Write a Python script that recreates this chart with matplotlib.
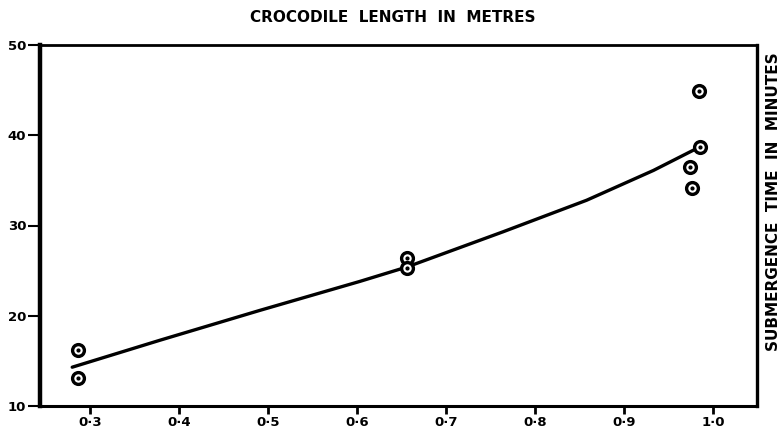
import matplotlib
matplotlib.use("Agg")
import matplotlib.pyplot as plt

# =========================
# DATOS
# =========================
longitud = [0.287, 0.287, 0.656, 0.656, 0.984, 0.985, 0.974, 0.976]
inmersion = [16.2, 13.1, 26.4, 25.3, 44.9, 38.7, 36.5, 34.2]

curva_x = [0.280, 0.379, 0.491, 0.603, 0.656, 0.764, 0.858, 0.933, 0.985]
curva_y = [14.3, 17.3, 20.6, 23.8, 25.4, 29.3, 32.8, 36.1, 38.7]

x_ticks = [0.3, 0.4, 0.5, 0.6, 0.7, 0.8, 0.9, 1.0]
x_labels = ["0·3", "0·4", "0·5", "0·6", "0·7", "0·8", "0·9", "1·0"]
y_ticks = [10, 20, 30, 40, 50]

TITULO = "CROCODILE  LENGTH  IN  METRES"
ETIQUETA_Y = "SUBMERGENCE  TIME  IN  MINUTES"

# =========================
# FIGURA
# =========================
fig = plt.figure(figsize=(7.82, 4.30), dpi=100)
ax = fig.add_axes([40 / 782, 1 - 406 / 430, (757 - 40) / 782, (406 - 45) / 430])

ax.plot(curva_x, curva_y, color="black", linewidth=2.4,
        solid_capstyle="round", solid_joinstyle="round")

ax.plot(longitud, inmersion, linestyle="none", marker="o", markersize=8.5,
        markerfacecolor="white", markeredgecolor="black", markeredgewidth=2.4)
ax.plot(longitud, inmersion, linestyle="none", marker="o", markersize=2,
        color="black")

ax.set_xlim(0.2438, 1.0494)
ax.set_ylim(10, 50)

ax.set_xticks(x_ticks)
ax.set_xticklabels(x_labels, fontsize=9.5, fontweight="bold")
ax.set_yticks(y_ticks)
ax.set_yticklabels([str(v) for v in y_ticks], fontsize=9.5, fontweight="bold")

ax.tick_params(axis="x", direction="out", length=6, width=2, pad=1.5)
ax.tick_params(axis="y", direction="out", length=9, width=1.5, pad=1)

ax.spines["left"].set_linewidth(3.2)
ax.spines["bottom"].set_linewidth(2.2)
ax.spines["top"].set_linewidth(2.0)
ax.spines["right"].set_linewidth(2.4)

# =========================
# TEXTOS
# =========================
fig.text(393 / 782, 1 - 17 / 430, TITULO, ha="center", va="center",
         fontsize=11, fontweight="bold", family="DejaVu Sans")
fig.text(773 / 782, 1 - 202 / 430, ETIQUETA_Y, ha="center", va="center",
         rotation=90, fontsize=11, fontweight="bold", family="DejaVu Sans")

plt.savefig("out.png", dpi=100)
plt.close()
